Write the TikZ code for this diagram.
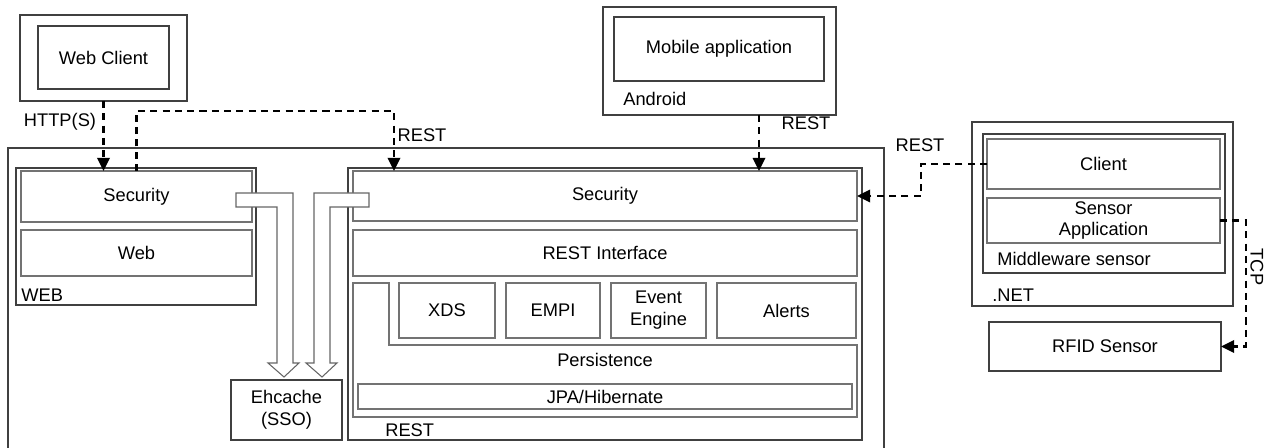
\documentclass[tikz,border=0pt]{standalone}
\usepackage{fontspec}
\setmainfont{Liberation Sans}
\usetikzlibrary{fit,arrows.meta}

\begin{document}
\begin{tikzpicture}[line join=miter,x=0.02cm,y=-0.02cm,
	font=\fontsize{10.4}{12.4}\selectfont,
	every label/.style={align=center,inner sep=0pt},
	box/.style={draw=black!75,line width=0.6pt,inner sep=0pt,outer sep=0pt},
	sub/.style={box,draw=black!55},
	tag/.style={anchor=west,inner sep=0pt},
	dasharr/.style={line width=1.4pt,dash pattern=on 4pt off 3pt,-{Triangle[length=7.5pt,width=7pt]}},
	hollow/.style={draw=black!60,fill=white,line width=0.6pt}]
		\clip (0,0) rectangle (1273,448);
		\node[box,fit={(20,15) (187,101)}] (webclout) {};
		\node[box,fit={(38,26) (169,89)},label={center:Web Client}] (webcl) {};
		\node[box,fit={(603,7) (836,115)}] (android) {};
		\node[box,fit={(614,17) (824,81)},label={center:Mobile application}] (mobile) {};
		\node[tag] at (623,99) (androidlbl) {Android};
		\node[box,fit={(8,148) (884,470)}] (server) {};
		\node[box,fit={(16,168) (256,305)}] (web) {};
		\node[tag] at (21,295) (weblbl) {WEB};
		\node[sub,fit={(21,171) (252,222)},label={center:Security}] (websec) {};
		\node[sub,fit={(21,230) (252,276)},label={center:Web}] (webweb) {};
		\node[box,fit={(348,168) (862,440)}] (rest) {};
		\node[tag] at (385,430) (restlbl) {REST};
		\node[sub,fit={(353,171) (857,221)},label={center:Security}] (restsec) {};
		\node[sub,fit={(353,230) (857,276)},label={center:REST Interface}] (restif) {};
		\draw[sub] (353,283) -- (389,283) -- (389,345) -- (857,345) -- (857,417) -- (353,417) -- cycle;
		\node at (605,360) (persist) {Persistence};
		\node[sub,fit={(399,283) (495,338)},label={center:XDS}] (xds) {};
		\node[sub,fit={(506,283) (600,338)},label={center:EMPI}] (empi) {};
		\node[sub,fit={(611,283) (706,338)},label={center:Event\\Engine}] (evt) {};
		\node[sub,fit={(717,283) (856,338)},label={center:Alerts}] (alerts) {};
		\node[sub,fit={(358,384) (852,409)},label={center:JPA/Hibernate}] (jpa) {};
		\node[box,fit={(231,380) (342,440)},label={center:Ehcache\\(SSO)}] (ehcache) {};
		\draw[hollow] (236,193) -- (293,193) -- (293,363) -- (299,363) -- (284,377) -- (268,363) -- (277,363) -- (277,207) -- (236,207) -- cycle;
		\draw[hollow] (369,193) -- (314,193) -- (314,363) -- (306,363) -- (322,377) -- (337,363) -- (330,363) -- (330,207) -- (369,207) -- cycle;
		\node[box,fit={(972,122) (1233,306)}] (net) {};
		\node[tag] at (992,295) (netlbl) {.NET};
		\node[box,fit={(983,134) (1225,273)}] (mw) {};
		\node[tag] at (997,259) (mwlbl) {Middleware sensor};
		\node[sub,fit={(987,139) (1220,189)},label={center:Client}] (client) {};
		\node[sub,fit={(987,198) (1220,243)},label={center:Sensor\\Application}] (sensapp) {};
		\node[box,fit={(989,322) (1221,371)},label={center:RFID Sensor}] (rfid) {};
		\coordinate (webrest) at (394,111);
		\coordinate (mobrest) at (759,115);
		\coordinate (clbend) at (921,180);
		\coordinate (tcpbend) at (1246,280);
		\draw[dasharr] (webclout.south) -- (webclout.south |- websec.north);
		\draw[dasharr] (websec.north) |- (webrest) -- (webrest |- restsec.north);
		\draw[dasharr] (mobrest) -- (mobrest |- restsec.north);
		\draw[dasharr] (client.west) -| (clbend) |- (restsec.east);
		\draw[dasharr] (sensapp.east) -| (tcpbend) |- (rfid.east);
		\node at (60,122) (httplbl) {HTTP(S)};
		\node at (422,135) (rest1lbl) {REST};
		\node at (806,123) (rest2lbl) {REST};
		\node at (920,145) (rest3lbl) {REST};
		\node[rotate=-90] at (1257,267) (tcplbl) {TCP};
\end{tikzpicture}
\end{document}
